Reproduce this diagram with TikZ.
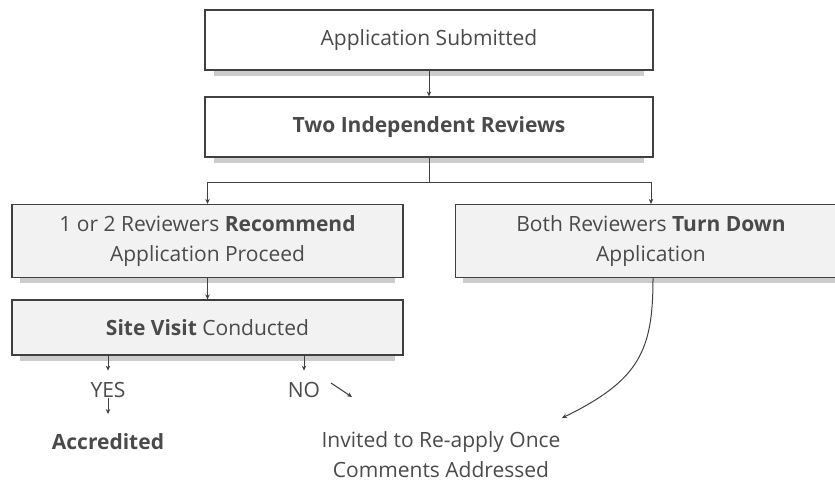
\documentclass[tikz,border=0pt]{standalone}
\usepackage{fontspec}
\setmainfont{Open Sans}
\usepackage{xcolor}
\usetikzlibrary{shadows,arrows.meta}
\definecolor{ink}{HTML}{404040}
\definecolor{textgray}{HTML}{4A4A4A}
\definecolor{boxgray}{HTML}{F2F2F2}

\begin{document}
\begin{tikzpicture}[x=1pt,y=-1pt,
  every node/.style={text=textgray,font=\fontsize{21}{30}\selectfont,align=center,inner sep=0pt},
  stage/.style={draw=ink,line width=1.2pt,rectangle,fill=white,
    drop shadow={shadow xshift=0pt,shadow yshift=-7pt,shadow scale=.96,opacity=.4,fill=gray}},
  greystage/.style={stage,fill=boxgray},
  link/.style={draw=ink,line width=1pt,-{Stealth[length=5pt,width=4.5pt]}}]
\useasboundingbox (0,0) rectangle (835,485);
% Boxes
\node[stage,minimum width=448pt,minimum height=60pt] (submitted) at (429,40) {Application Submitted};
\node[stage,minimum width=448pt,minimum height=60pt] (reviews) at (429,127) {\textbf{Two Independent Reviews}};
\node[greystage,minimum width=391pt,minimum height=73pt] (recommend) at (207.5,241) {1 or 2 Reviewers \textbf{Recommend}\\Application Proceed};
\node[greystage,minimum width=391pt,minimum height=73pt] (turndown) at (651,241) {Both Reviewers \textbf{Turn Down}\\Application};
\node[greystage,minimum width=391pt,minimum height=55pt] (visit) at (207.5,327.5) {\textbf{Site Visit} Conducted};
% Outcomes
\node (yes) at (108,390) {YES};
\node (no) at (304,390) {NO};
\node (accredited) at (108,442) {\textbf{Accredited}};
\node (invited) at (441,455) {Invited to Re-apply Once\\Comments Addressed};
\coordinate (split) at (429,182);
\coordinate (yesend) at (108,414);
\coordinate (nostart) at (331,383);
\coordinate (noend) at (352,397);
\coordinate (downend) at (562,418);
% Links
\draw[link] (submitted) -- (reviews);
\draw[draw=ink,line width=1pt] (reviews.south) -- (split);
\draw[link] (split) -| (recommend.north);
\draw[link] (split) -| (turndown.north);
\draw[link] (recommend) -- (visit);
\draw[link] (visit.south -| yes) -- ++(0,15);
\draw[link] (visit.south -| no) -- ++(0,15);
\draw[link] (yesend) ++(0,-16) -- (yesend);
\draw[link] (nostart) -- (noend);
\draw[link] (turndown.south -| 653,0) .. controls (653,350) and (640,380) .. (downend);
\end{tikzpicture}
\end{document}
